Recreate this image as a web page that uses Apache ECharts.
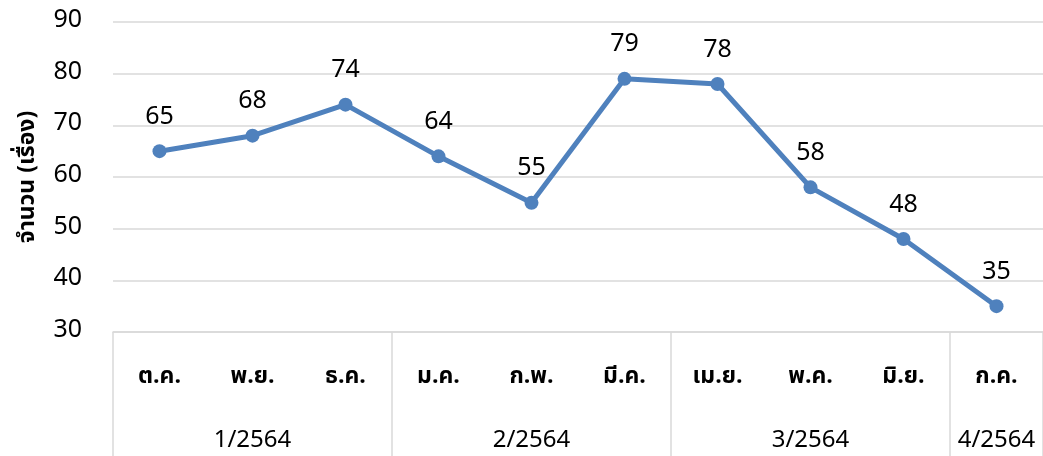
<!DOCTYPE html>
<html>
<head>
<meta charset="utf-8">
<script src="https://cdn.jsdelivr.net/npm/echarts@6/dist/echarts.min.js"></script>
<style>
html, body { margin: 0; padding: 0; background: #fff; }
#chart { width: 1043px; height: 456px; }
</style>
</head>
<body>
<div id="chart"></div>
<script>
// เดือน / ไตรมาส / จำนวนเรื่อง
var months = ['ต.ค.', 'พ.ย.', 'ธ.ค.', 'ม.ค.', 'ก.พ.', 'มี.ค.', 'เม.ย.', 'พ.ค.', 'มิ.ย.', 'ก.ค.'];
var quarters = ['', '1/2564', '', '', '2/2564', '', '', '3/2564', '', '4/2564'];
var quarterStarts = [0, 3, 6, 9];
var counts = [65, 68, 74, 64, 55, 79, 78, 58, 48, 35];

var font = 'Tahoma, "Noto Sans Thai", "Noto Sans", sans-serif';

var myChart = echarts.init(document.getElementById('chart'));
var option = {
    animation: false,
    textStyle: { fontFamily: font },
    grid: { left: 113, right: -4, top: 22, bottom: 124 },
    xAxis: [
        {
            type: 'category',
            data: months,
            position: 'bottom',
            axisLine: { lineStyle: { color: '#d9d9d9', width: 1.5 } },
            axisTick: { show: false },
            axisLabel: {
                color: '#000',
                fontSize: 23,
                fontWeight: 'bold',
                margin: 35,
                fontFamily: font
            }
        },
        {
            type: 'category',
            data: quarters,
            position: 'bottom',
            axisLine: { show: false },
            axisTick: {
                show: true,
                length: 140,
                interval: function (i) { return quarterStarts.indexOf(i) >= 0; },
                lineStyle: { color: '#d9d9d9', width: 1.5 }
            },
            axisLabel: {
                color: '#000',
                fontSize: 24,
                margin: 98,
                interval: 0,
                fontFamily: font
            }
        }
    ],
    yAxis: {
        type: 'value',
        min: 30,
        max: 90,
        interval: 10,
        name: 'จำนวน (เรื่อง)',
        nameLocation: 'middle',
        nameGap: 72,
        nameTextStyle: { color: '#000', fontSize: 23, fontWeight: 'bold', fontFamily: font },
        axisLine: { show: false },
        axisTick: { show: false },
        axisLabel: { color: '#000', fontSize: 25, margin: 31, fontFamily: font },
        splitLine: { lineStyle: { color: '#d9d9d9', width: 1.5 } }
    },
    series: [
        {
            type: 'line',
            data: counts,
            xAxisIndex: 0,
            symbol: 'circle',
            symbolSize: 14,
            lineStyle: { color: '#4f81bd', width: 5 },
            itemStyle: { color: '#4f81bd' },
            label: {
                show: true,
                position: 'top',
                distance: 13,
                color: '#000',
                fontSize: 25,
                fontFamily: font
            }
        }
    ]
};
myChart.setOption(option);
window.addEventListener('resize', function () { myChart.resize(); });
</script>
</body>
</html>
